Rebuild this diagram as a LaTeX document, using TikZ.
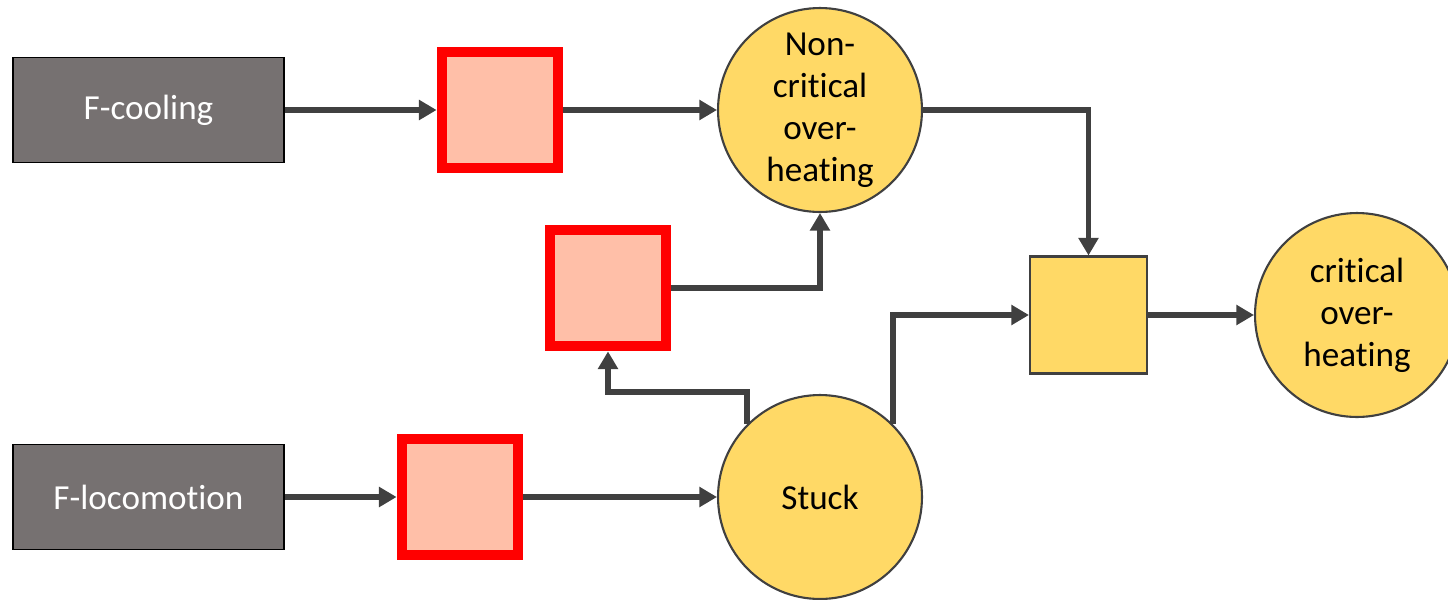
\documentclass[tikz,border=0pt]{standalone}
\usepackage{fontspec}
\setmainfont{Carlito}[Ligatures=NoCommon, Contextuals=NoAlternate, RawFeature={-liga;-clig;-dlig}]
\usetikzlibrary{arrows.meta}
\definecolor{boxgray}{HTML}{767171}
\definecolor{salmon}{HTML}{FFBFA8}
\definecolor{gold}{HTML}{FFD966}
\definecolor{wire}{HTML}{404040}

\begin{document}
\begin{tikzpicture}[x=0.02cm, y=-0.02cm,
  fault/.style={draw=black, line width=1pt, fill=boxgray, text=white, minimum width=5.42cm, minimum height=2.1cm, inner sep=0pt, font=\fontsize{20}{24}\selectfont},
  gate/.style={draw=red, line width=6.2pt, fill=salmon, minimum size=2.32cm, inner sep=0pt},
  andgate/.style={draw=wire, line width=1.2pt, fill=gold, minimum size=2.34cm, inner sep=0pt},
  event/.style={circle, draw=wire, line width=1.2pt, fill=gold, minimum size=4.08cm, inner sep=0pt, align=center, font=\fontsize{20}{24}\selectfont},
  link/.style={draw=wire, line width=3.3pt, -{Triangle[length=10pt,width=11pt]}}]
  \useasboundingbox (0,0) rectangle (1448,599);

  % basic faults
  \node (FC) [fault] at (148.5,110) {F-cooling};
  \node (FL) [fault] at (148.5,497) {F-locomotion};

  % gates
  \node (G1) [gate] at (500,110) {};
  \node (G2) [gate] at (608,288) {};
  \node (G3) [gate] at (460,497) {};
  \node (G4) [andgate] at (1088.5,315) {};

  % events
  \node (NC) [event] at (820,110) {Non-\\critical\\over-\\heating};
  \node (ST) [event] at (820,497) {Stuck};
  \node (CO) [event] at (1357,315) {critical\\over-\\heating};

  \draw[link] (FC) -- (G1);
  \draw[link] (G1) -- (NC);
  \draw[link] (NC.east) -| (G4.north);
  \draw[link] (G2.east) -| (NC.south);
  \draw[link] (ST.135) -- ++(0,-32) -| (G2.south);
  \draw[link] (ST.45) |- (G4.west);
  \draw[link] (G4) -- (CO);
  \draw[link] (FL) -- (G3);
  \draw[link] (G3) -- (ST);
\end{tikzpicture}
\end{document}
